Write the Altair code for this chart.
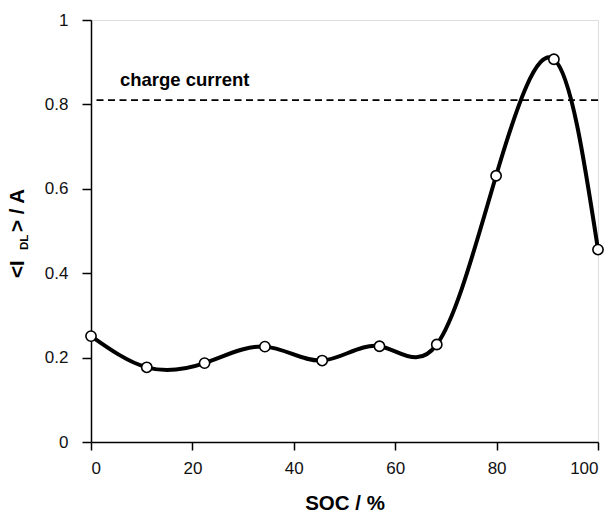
import altair as alt
import pandas as pd

soc = [0, 11.0, 22.4, 34.3, 45.6, 56.9, 68.2, 79.9, 91.3, 100]
idl = [0.251, 0.177, 0.187, 0.226, 0.193, 0.227, 0.231, 0.631, 0.907, 0.456]
charge_current = 0.810
x_ticks = [0, 20, 40, 60, 80, 100]
y_ticks = [0, 0.2, 0.4, 0.6, 0.8, 1]

df = pd.DataFrame({"soc": soc, "idl": idl})
FONT = "Liberation Sans"

xs = alt.Scale(domain=[0, 100], nice=False)
ys = alt.Scale(domain=[0, 1], nice=False)

x_enc = alt.X("soc:Q", scale=xs, axis=alt.Axis(
    values=x_ticks, title="SOC / %", grid=False, tickSize=8, labelPadding=10,
    titlePadding=17, titleFontSize=20.5, titleFontWeight="bold", labelFontSize=17,
    labelFont=FONT, titleFont=FONT, domainColor="black", tickColor="black",
    domainWidth=1.5, tickWidth=1.5, labelColor="#111", titleColor="black"))
y_enc = alt.Y("idl:Q", scale=ys, axis=alt.Axis(
    values=y_ticks, title=None, grid=False, tickSize=9, labelPadding=14,
    format="~g", labelFontSize=17, labelFont=FONT, domainColor="black",
    tickColor="black", domainWidth=1.5, tickWidth=1.5, labelColor="#111"))

line = alt.Chart(df).mark_line(
    interpolate="natural", color="black", strokeWidth=4
).encode(x=x_enc, y=y_enc)

pts = alt.Chart(df).mark_point(
    filled=True, fill="white", stroke="black", strokeWidth=1.6, size=105, opacity=1
).encode(x="soc:Q", y="idl:Q")

cc_df = pd.DataFrame({"y": [charge_current]})
dash = alt.Chart(cc_df).mark_rule(
    color="black", strokeWidth=1.8, strokeDash=[7, 4.5]
).encode(y="y:Q")

lab_df = pd.DataFrame({"x": [5.7], "y": [0.858], "t": ["charge current"]})
lab = alt.Chart(lab_df).mark_text(
    align="left", baseline="middle", fontSize=18.5, fontWeight="bold",
    font=FONT, color="black"
).encode(x="x:Q", y="y:Q", text="t:N")

def ytitle(txt, x, y, size):
    return alt.Chart(pd.DataFrame({"t": [txt]})).mark_text(
        angle=270, align="left", baseline="middle", fontSize=size,
        fontWeight="bold", font=FONT, color="black"
    ).encode(x=alt.value(x), y=alt.value(y), text="t:N")

yt1 = ytitle("<I", -73, 258, 20.5)
yt2 = ytitle("DL", -66, 230, 11.5)
yt3 = ytitle("> / A", -73, 212, 20.5)

chart = alt.layer(dash, line, pts, lab, yt1, yt2, yt3).properties(
    width=507, height=422,
    autosize=alt.AutoSizeParams(type="none"),
    padding={"left": 91, "top": 20, "right": 17, "bottom": 72},
).configure_view(stroke="black", strokeWidth=1.5).configure(background="white")

chart.save("out.html", embed_options={"renderer": "svg", "actions": False})
